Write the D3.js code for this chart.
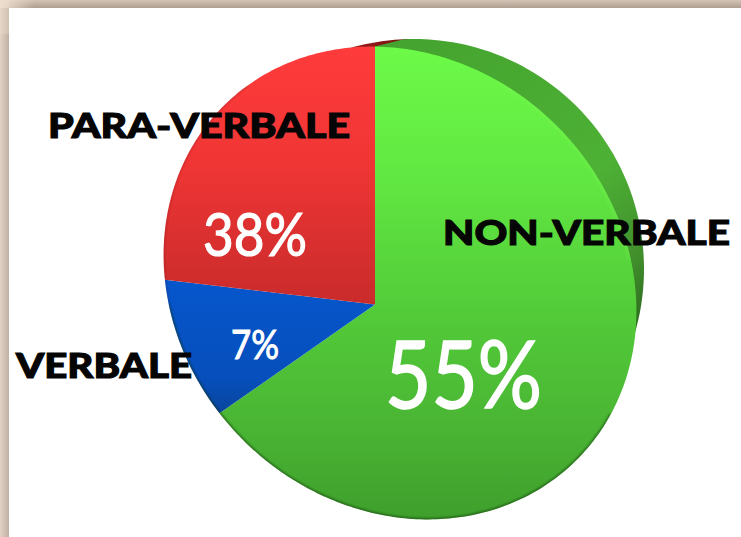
<!DOCTYPE html>
<html>
<head>
<meta charset="utf-8">
<script src="https://cdn.jsdelivr.net/npm/d3@7"></script>
<style>
  html, body { margin: 0; padding: 0; background: #fff; }
  svg { display: block; }
  text { font-family: Lato, "Open Sans", sans-serif; }
</style>
</head>
<body>
<script>
// Share of each communication channel, clockwise from twelve o'clock.
const categories = ["NON-VERBALE", "VERBALE", "PARA-VERBALE"];
const shares = [55, 7, 38];
const shareLabels = ["55%", "7%", "38%"];

const W = 741, H = 537;
const deg = Math.PI / 180;

// On-screen bearing of each slice boundary once the disc is tilted towards the viewer.
const tiltedBearings = [0, 235, 276.7, 360];

const svg = d3.select("body").append("svg").attr("width", W).attr("height", H);
const defs = svg.append("defs");

function linearGrad(id, attrs, stops) {
  const g = defs.append("linearGradient").attr("id", id).attr("gradientUnits", "userSpaceOnUse");
  Object.entries(attrs).forEach(([k, v]) => g.attr(k, v));
  stops.forEach(([o, c, a]) => {
    const s = g.append("stop").attr("offset", o).attr("stop-color", c);
    if (a !== undefined) s.attr("stop-opacity", a);
  });
}
linearGrad("frameTop", {x1: 0, y1: 0, x2: 0, y2: 8},
  [[0, "#d4c4b6"], [1, "#ad9e91"]]);
linearGrad("frameLeft", {x1: 0, y1: 0, x2: 9, y2: 0},
  [[0, "#e2d3c5"], [1, "#bfb0a3"]]);
linearGrad("frameCorner", {x1: 0, y1: 0, x2: 34, y2: 0},
  [[0, "#efdfcf", 1], [1, "#efdfcf", 0]]);
linearGrad("faceGreen", {x1: 0, y1: 48, x2: 0, y2: 519},
  [[0, "#6dfa48"], [0.3, "#60e541"], [0.55, "#53cc39"], [0.8, "#4ab534"], [1, "#3f9f2c"]]);
linearGrad("faceRed", {x1: 0, y1: 48, x2: 0, y2: 305},
  [[0, "#ff3b3b"], [0.45, "#f03535"], [0.72, "#dc3030"], [1, "#c92b2b"]]);
linearGrad("faceBlue", {x1: 0, y1: 280, x2: 0, y2: 420},
  [[0, "#0656cc"], [0.7, "#064fbc"], [1, "#0a4496"]]);
linearGrad("rimGreen", {x1: 420, y1: 40, x2: 640, y2: 320},
  [[0, "#45a42f"], [0.6, "#4db135"], [0.85, "#418f2c"], [1, "#2f6f20"]]);
linearGrad("rimRed", {x1: 340, y1: 0, x2: 410, y2: 0},
  [[0, "#a81f1f"], [1, "#701212"]]);
defs.append("filter").attr("id", "soft").append("feGaussianBlur").attr("stdDeviation", 2);
defs.append("filter").attr("id", "softThin").append("feGaussianBlur").attr("stdDeviation", 0.8);

// Beige frame along the top and left edges of the slide.
svg.append("rect").attr("width", 9).attr("height", H).attr("fill", "url(#frameLeft)");
svg.append("rect").attr("width", W).attr("height", 8).attr("fill", "url(#frameTop)");
svg.append("rect").attr("width", 34).attr("height", 8).attr("fill", "url(#frameCorner)");
svg.append("rect").attr("width", 9).attr("height", 34).attr("fill", "#efdfcf").attr("opacity", 0.35);

// Distance along a ray from the apex to a rotated ellipse, returned as a screen point.
function rimPoint(bearing, apex, e) {
  const dx = Math.sin(bearing), dy = -Math.cos(bearing);
  const c = Math.cos(e.rot), s = Math.sin(e.rot);
  const ox = apex[0] - e.cx, oy = apex[1] - e.cy;
  const px = (ox * c + oy * s) / e.a, py = (-ox * s + oy * c) / e.b;
  const qx = (dx * c + dy * s) / e.a, qy = (-dx * s + dy * c) / e.b;
  const A = qx * qx + qy * qy, B = 2 * (px * qx + py * qy), C = px * px + py * py - 1;
  const t = (-B + Math.sqrt(B * B - 4 * A * C)) / (2 * A);
  return [apex[0] + t * dx, apex[1] + t * dy];
}

const faceOutline = {cx: 400, cy: 283, a: 250, b: 222, rot: 45 * deg};
const sideOutline = {cx: 414, cy: 269, a: 230, b: 230, rot: 0};
const faceApex = [375, 304.5];

const arcs = d3.pie().sort(null)(shares);
const tilt = d3.scaleLinear()
  .domain([0, arcs[0].endAngle, arcs[1].endAngle, 2 * Math.PI])
  .range(tiltedBearings.map(d => d * deg));

const line = d3.line();
function wedge(from, to, apex, outline) {
  const n = Math.ceil((to - from) / deg);
  const rim = d3.range(n + 1).map(i => rimPoint(from + (to - from) * i / n, apex, outline));
  return line([apex, ...rim]) + "Z";
}
const slicePath = (arc, apex, outline) => wedge(tilt(arc.startAngle), tilt(arc.endAngle), apex, outline);

// Side wall: the red slice shows as a sliver along the top, the green slice wraps to the right.
const side = svg.append("g");
side.append("path").attr("d", slicePath(arcs[2], [412, 290], sideOutline)).attr("fill", "url(#rimRed)");
const faceTop = rimPoint(tilt(arcs[0].startAngle), faceApex, faceOutline);
side.append("path").attr("d", wedge(75.6 * deg, 172 * deg, faceTop, sideOutline)).attr("fill", "url(#rimGreen)");

// Front face of the pie.
const faceFills = ["url(#faceGreen)", "url(#faceBlue)", "url(#faceRed)"];
const fullFace = line(d3.range(361).map(i => rimPoint(i * deg, faceApex, faceOutline))) + "Z";
defs.append("clipPath").attr("id", "faceClip").append("path").attr("d", fullFace);

svg.append("g").selectAll("path").data(arcs).join("path")
  .attr("d", d => slicePath(d, faceApex, faceOutline))
  .attr("fill", (d, i) => faceFills[i]);

// Rounded bevel: a bright lip on the upper right, a dark lip along the lower edge.
const bevel = svg.append("g").attr("clip-path", "url(#faceClip)");
const bevelArc = (a0, a1) => line(d3.range(a0, a1 + 1).map(i => rimPoint(i * deg, faceApex, faceOutline)));
bevel.append("path").attr("d", bevelArc(30, 80)).attr("fill", "none")
  .attr("stroke", "#84fb58").attr("stroke-width", 4).attr("opacity", 0.35).attr("filter", "url(#soft)");
bevel.append("path").attr("d", bevelArc(115, 270)).attr("fill", "none")
  .attr("stroke", "#0f3008").attr("stroke-width", 2.5).attr("opacity", 0.6).attr("filter", "url(#softThin)");
bevel.append("path").attr("d", bevelArc(270, 330)).attr("fill", "none")
  .attr("stroke", "#5a0f0f").attr("stroke-width", 2).attr("opacity", 0.25).attr("filter", "url(#softThin)");

// Percentages on the slices.
const shareSpans = [[385, 542, 408, 93, 1.6], [231, 279, 359, 41, 1], [203, 307, 256, 60, 1.2]];
svg.append("g").selectAll("text").data(shareLabels).join("text")
  .text(d => d)
  .attr("x", (d, i) => shareSpans[i][0])
  .attr("y", (d, i) => shareSpans[i][2])
  .attr("textLength", (d, i) => shareSpans[i][1] - shareSpans[i][0])
  .attr("lengthAdjust", "spacingAndGlyphs")
  .attr("font-size", (d, i) => shareSpans[i][3])
  .attr("fill", "#fff")
  .attr("stroke", "#fff")
  .attr("stroke-width", (d, i) => shareSpans[i][4]);

// Channel names.
const nameSpans = [[443, 730, 245], [16, 192, 378], [48, 350, 138]];
svg.append("g").selectAll("text").data(categories).join("text")
  .text(d => d)
  .attr("x", (d, i) => nameSpans[i][0])
  .attr("y", (d, i) => nameSpans[i][2])
  .attr("textLength", (d, i) => nameSpans[i][1] - nameSpans[i][0])
  .attr("lengthAdjust", "spacingAndGlyphs")
  .attr("font-size", 35)
  .attr("font-weight", 900)
  .attr("fill", "#050505")
  .attr("stroke", "#050505")
  .attr("stroke-width", 1.1);
</script>
</body>
</html>
